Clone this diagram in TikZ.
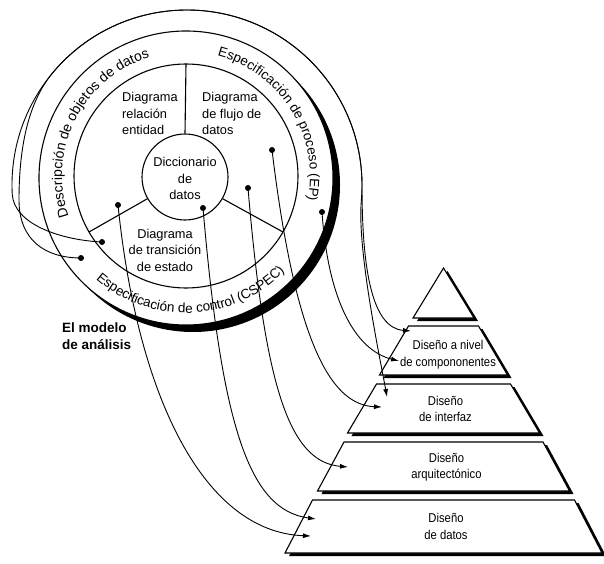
\documentclass[tikz,border=0pt]{standalone}
\usepackage{fontspec}
\setmainfont{Liberation Sans}
\newfontfamily\pyrfont[FakeStretch=0.88]{Liberation Sans}
\usetikzlibrary{arrows.meta,decorations.text}
\newcommand\curvfont{\fontsize{13.5}{16}\selectfont}
\newcommand\curvfontb{\fontsize{14}{16}\selectfont}
\begin{document}
\begin{tikzpicture}[x=1pt,y=1pt,
  circ/.style={line width=1.1pt},
  conn/.style={line width=0.9pt},
  arr/.style={conn,-{Latex[length=8pt,width=5pt]}},
  dotnode/.style={circle,fill=black,inner sep=0pt,minimum size=6pt},
  lbl/.style={font=\fontsize{12.8}{16.5}\selectfont,inner sep=0pt},
  pyr/.style={font=\pyrfont\fontsize{12.8}{16.5}\selectfont,align=center,inner sep=0pt},
  tier/.style={fill=white,draw=black,line width=1.1pt,line join=miter},
  tshadow/.style={fill=black}]
\useasboundingbox (0,0) rectangle (604,563);
\fill[white] (0,0) rectangle (604,563);

% ring with shadow
\fill[black] (193,378) circle[radius=147];
\fill[white] (186,385) circle[radius=147];
\draw[circ] (186,385) circle[radius=147];
\draw[circ] (186,387) circle[radius=112];
\node[circle,draw,line width=1.1pt,minimum size=86pt,inner sep=0pt] (dic) at (185,386) {};
\draw[circ] (dic.90) -- ([shift={(186,387)}]90:112);
\draw[circ] (dic.210) -- ([shift={(186,387)}]210:112);
\draw[circ] (dic.330) -- ([shift={(186,387)}]330:112);

% region labels
\node[lbl,anchor=west,align=left] (erd) at (122,449.5) {Diagrama\\relación\\entidad};
\node[lbl,anchor=west,align=left] (dfd) at (202,449.5) {Diagrama\\de flujo de\\datos};
\node[lbl,align=center] (dd) at (185,384.5) {Diccionario\\de\\datos};
\node[lbl,align=center] (std) at (165,313) {Diagrama\\de transición\\de estado};

% curved ring texts
\path[decorate,decoration={text along path,text align=center,
  text={|\curvfontb|Descripción de objetos de datos}}]
  ([shift={(186,387)}]205:124) arc[start angle=205,end angle=101,radius=124];
\path[decorate,decoration={text along path,text align=center,
  text={|\curvfont|Especificación de proceso (EP)}}]
  ([shift={(186,387)}]78:124) arc[start angle=78,end angle=-14,radius=124];
\path[decorate,decoration={text along path,text align=center,
  text={|\curvfont|Especificación de control (CSPEC)}}]
  ([shift={(186,387)}]222:137) arc[start angle=222,end angle=323,radius=137];

\node[font=\bfseries\fontsize{13.5}{17}\selectfont,align=left,anchor=west,inner sep=0pt] (model) at (62,226.5) {El modelo\\de análisis};

% pyramid
\fill[tshadow,shift={(4,-3)}] (443.5,295) -- (474,245) -- (413,245) -- cycle;
\draw[tier] (443.5,295) -- (474,245) -- (413,245) -- cycle;
\fill[tshadow,shift={(4,-3)}] (408.5,237) -- (478.5,237) -- (507.5,188) -- (379.5,188) -- cycle;
\draw[tier] (408.5,237) -- (478.5,237) -- (507.5,188) -- (379.5,188) -- cycle;
\fill[tshadow,shift={(4,-3)}] (376.5,179) -- (510.5,179) -- (539.5,130) -- (347.5,130) -- cycle;
\draw[tier] (376.5,179) -- (510.5,179) -- (539.5,130) -- (347.5,130) -- cycle;
\fill[tshadow,shift={(4,-3)}] (344,121) -- (543,121) -- (569.5,72) -- (317.5,72) -- cycle;
\draw[tier] (344,121) -- (543,121) -- (569.5,72) -- (317.5,72) -- cycle;
\fill[tshadow,shift={(4,-3)}] (312.5,63) -- (574.5,63) -- (602,10) -- (285,10) -- cycle;
\draw[tier] (312.5,63) -- (574.5,63) -- (602,10) -- (285,10) -- cycle;

\node[pyr] (pcomp) at (448,208.5) {Diseño a nivel\\de compononentes};
\node[pyr] (pint) at (445.5,154) {Diseño\\de interfaz};
\node[pyr] (parq) at (446.5,96) {Diseño\\arquitectónico};
\node[pyr] (pdat) at (446,36.5) {Diseño\\de datos};

% targets
\coordinate (tC1) at (411,232);
\coordinate (tC2) at (399,202);
\coordinate (tI1) at (387,166);
\coordinate (tI2) at (382,156);
\coordinate (tA) at (348,96);
\coordinate (tD1) at (316,44);
\coordinate (tD2) at (311,27);

% dots
\node[dotnode] (dERD) at (118,358) {};
\node[dotnode] (dDIC) at (203,355) {};
\node[dotnode] (dDFDa) at (248,375) {};
\node[dotnode] (dDFDb) at (272,413) {};
\node[dotnode] (dEP) at (322,351) {};
\node[dotnode] (dSTD) at (102,321) {};
\node[dotnode] (dCS) at (81,305) {};

% connectors
\draw[arr] (dERD.center) .. controls (138,163) and (205,31) .. (tD2);
\draw[arr] (dDIC.center) .. controls (222,133) and (250,53) .. (tD1);
\draw[arr] (dDFDa.center) .. controls (265,173) and (290,101) .. (tA);
\draw[arr] (dDFDb.center) .. controls (295,223) and (330,158) .. (tI2);
\draw[arr] (dEP.center) .. controls (328,263) and (355,213) .. (tC2);
\draw[arr] (dSTD.center) .. controls (60,323) and (14,339) .. (12.24,368.84)
  arc[start angle=183,end angle=-5,radius=175]
  .. controls (357,313) and (380,205) .. (tI1);
\draw[arr] (dCS.center) .. controls (45,305) and (19,323) .. (19,363)
  .. controls (19,413) and (27.2,459.9) .. (52.94,490.49)
  arc[start angle=140,end angle=0,radius=175]
  .. controls (362,293) and (372,235) .. (tC1);
\end{tikzpicture}
\end{document}
